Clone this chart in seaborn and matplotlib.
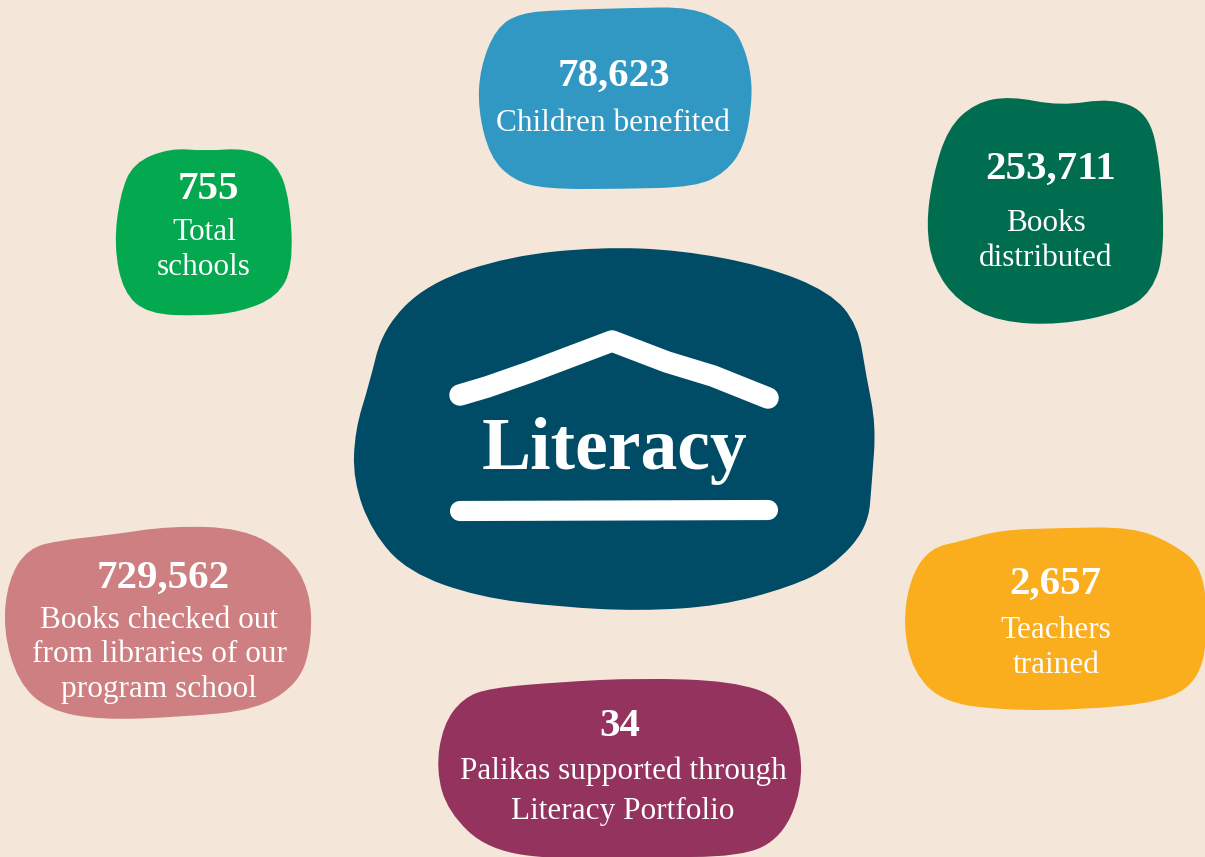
# coding: utf-8
import seaborn as sns
import matplotlib.pyplot as plt
from matplotlib.path import Path
from matplotlib.patches import PathPatch

sns.set_theme(style='white')
plt.rcParams['font.family'] = ['Liberation Serif', 'DejaVu Serif']

BG = '#f4e6d8'
WHITE = '#ffffff'

# blob outlines in pixels
centre_blob = [(600, 247), (680, 250), (765, 266), (830, 292), (858, 325), (866, 375), (876, 425), (872, 480),
               (868, 528), (832, 567), (790, 587), (720, 606), (640, 611), (560, 607), (478, 597), (408, 572),
               (372, 532), (353, 480), (355, 430), (369, 385), (383, 328), (428, 283), (510, 256)]
blue_blob = [(520, 13), (560, 10), (630, 8), (692, 7), (728, 24), (740, 37), (751, 70), (752, 105), (744, 147),
             (726, 172), (696, 187), (620, 189), (545, 189), (513, 180), (490, 157), (478, 110), (480, 68), (496, 28)]
dgreen_blob = [(1010, 96), (1060, 106), (1112, 98), (1148, 113), (1160, 160), (1165, 250), (1152, 292), (1122, 312),
               (1060, 325), (1000, 322), (958, 302), (933, 267), (926, 225), (933, 175), (948, 128), (975, 103)]
green_blob = [(170, 148), (205, 151), (247, 148), (277, 163), (290, 200), (293, 267), (277, 297), (240, 312),
              (200, 316), (148, 314), (123, 292), (114, 245), (120, 195), (133, 163)]
yellow_blob = [(962, 541), (1000, 530), (1060, 528), (1132, 527), (1172, 543), (1204, 568), (1208, 640), (1197, 682),
               (1162, 702), (1080, 710), (1000, 710), (943, 702), (913, 672), (903, 625), (910, 578), (930, 548)]
pink_blob = [(62, 540), (110, 535), (170, 526), (242, 528), (287, 553), (310, 590), (312, 640), (300, 682),
             (257, 710), (180, 717), (100, 720), (48, 710), (18, 682), (3, 630), (8, 580), (28, 548)]
maroon_blob = [(490, 688), (560, 682), (640, 678), (732, 681), (782, 698), (800, 740), (802, 790), (782, 837),
               (742, 857), (640, 857), (560, 860), (488, 850), (448, 812), (436, 770), (443, 725), (463, 698)]

blobs = [centre_blob, blue_blob, dgreen_blob, green_blob, yellow_blob, pink_blob, maroon_blob]
blob_colors = ['#004b66', '#3198c4', '#006d50', '#04a84f', '#faae1e', '#cd7f82', '#94335e']

values = ['78,623', '253,711', '755', '2,657', '729,562', '34']
value_xy = [(614, 76), (1051, 169), (208, 189), (1055, 584), (163, 578), (620, 726)]

labels = ['Children benefited', 'Books\ndistributed', 'Total\nschools', 'Teachers\ntrained',
          'Books checked out\nfrom libraries of our\nprogram school', 'Palikas supported through\nLiteracy Portfolio']
label_xy = [(613, 123), (1046, 241), (204, 250), (1056, 648), (159, 655), (623, 791)]
label_spacing = [1.0, 1.27, 1.27, 1.27, 1.27, 1.48]

roof_x = [460, 487, 530, 612, 667, 713, 768]
roof_y = [395, 387, 372, 341, 362, 376, 398]
floor_x = [460, 768]
floor_y = [511, 510]


def smooth_blob(points):
    """闭合的平滑轮廓"""
    mids = [((p[0] + q[0]) / 2, (p[1] + q[1]) / 2) for p, q in zip(points, points[1:] + points[:1])]
    verts = [mids[-1]]
    codes = [Path.MOVETO]
    for p, m in zip(points, mids):
        verts += [p, m]
        codes += [Path.CURVE3, Path.CURVE3]
    return Path(verts, codes)


fig, ax = plt.subplots(figsize=(12.05, 8.57), dpi=100)
fig.patch.set_facecolor(BG)
ax.set_position([0, 0, 1, 1])
ax.set_facecolor(BG)
ax.set_xlim(0, 1205)
ax.set_ylim(857, 0)
ax.set_xticks([])
ax.set_yticks([])
sns.despine(ax=ax, left=True, bottom=True)

for pts, c in zip(blobs, blob_colors):
    ax.add_patch(PathPatch(smooth_blob(pts), facecolor=c, edgecolor='none'))

sns.lineplot(x=roof_x, y=roof_y, ax=ax, color=WHITE, linewidth=15.5, sort=False, estimator=None,
             solid_capstyle='round', solid_joinstyle='round')
sns.lineplot(x=floor_x, y=floor_y, ax=ax, color=WHITE, linewidth=14.5, sort=False, estimator=None,
             solid_capstyle='round')

for v, xy in zip(values, value_xy):
    ax.text(xy[0], xy[1], v, color=WHITE, fontsize=29.5, fontweight='bold', ha='center', va='center')

for t, xy, sp in zip(labels, label_xy, label_spacing):
    ax.text(xy[0], xy[1], t, color=WHITE, fontsize=22.5, ha='center', va='center', linespacing=sp)

ax.text(615, 469, 'Literacy', color=WHITE, fontsize=53, fontweight='bold', ha='center', va='baseline')

fig.savefig('out.png', dpi=100, facecolor=BG)
